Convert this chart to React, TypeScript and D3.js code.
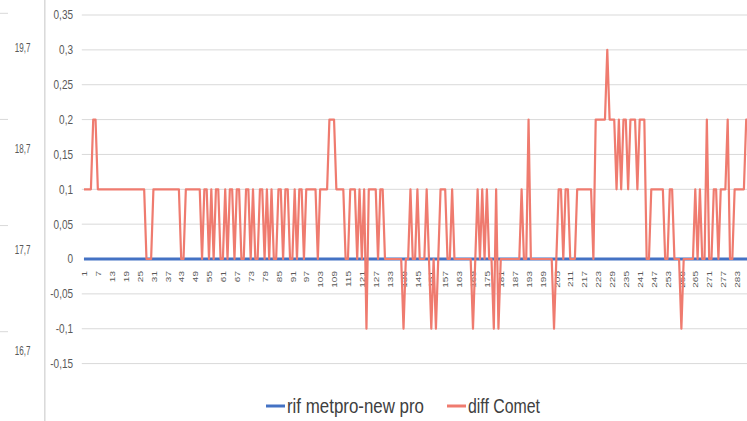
import { useRef, useEffect } from 'react';
import * as d3 from 'd3';

// diff Comet, one value per category (1..288)
const diffComet = [
  0.1, 0.1, 0.1, 0.1, 0.2, 0.2, 0.1, 0.1, 0.1, 0.1, 0.1, 0.1,
  0.1, 0.1, 0.1, 0.1, 0.1, 0.1, 0.1, 0.1, 0.1, 0.1, 0.1, 0.1,
  0.1, 0.1, 0.1, 0, 0, 0, 0.1, 0.1, 0.1, 0.1, 0.1, 0.1,
  0.1, 0.1, 0.1, 0.1, 0.1, 0.1, 0, 0, 0.1, 0.1, 0.1, 0.1,
  0.1, 0.1, 0.1, 0, 0.1, 0.1, 0, 0.1, 0, 0.1, 0.1, 0,
  0, 0.1, 0, 0.1, 0.1, 0, 0.1, 0.1, 0, 0, 0.1, 0.1,
  0, 0.1, 0, 0, 0.1, 0.1, 0, 0.1, 0, 0.1, 0, 0,
  0.1, 0.1, 0, 0.1, 0.1, 0, 0, 0.1, 0, 0.1, 0.1, 0,
  0.1, 0.1, 0.1, 0.1, 0.1, 0, 0.1, 0.1, 0.1, 0.1, 0.2, 0.2,
  0.2, 0.1, 0.1, 0.1, 0.1, 0, 0, 0.1, 0.1, 0.1, 0, 0.1,
  0, 0.1, -0.1, 0.1, 0.1, 0.1, 0.1, 0, 0.1, 0.1, 0, 0,
  0, 0, 0, 0, 0, 0, -0.1, 0, 0, 0.1, 0, 0,
  0.1, 0, 0, 0, 0.1, 0, -0.1, 0, -0.1, 0, 0.1, 0.1,
  0.1, 0, 0, 0.1, 0, 0, 0, 0, 0, 0, 0, 0,
  -0.1, 0, 0.1, 0, 0.1, 0, 0.1, 0, 0, -0.1, 0.1, -0.1,
  0, 0, 0, 0, 0, 0, 0, 0, 0, 0.1, 0, 0,
  0.2, 0, 0, 0, 0, 0, 0, 0, 0, 0, 0, -0.1,
  0, 0.1, 0.1, 0, 0.1, 0.1, 0, 0, 0, 0.1, 0.1, 0.1,
  0.1, 0.1, 0.1, 0.1, 0, 0.2, 0.2, 0.2, 0.2, 0.2, 0.3, 0.2,
  0.2, 0.2, 0.1, 0.2, 0.1, 0.2, 0.2, 0.1, 0.2, 0.2, 0.2, 0.1,
  0.2, 0.2, 0.2, 0, 0, 0.1, 0.1, 0.1, 0.1, 0.1, 0.1, 0,
  0, 0.1, 0.1, 0, 0, 0, -0.1, 0, 0, 0, 0, 0,
  0.1, 0, 0.1, 0, 0, 0.2, 0, 0, 0.1, 0.1, 0, 0.1,
  0.1, 0.1, 0.2, 0, 0, 0.1, 0.1, 0.1, 0.1, 0.1, 0.2, 0.2,
];

// rif metpro-new pro
const rifMetpro = [
  0, 0, 0, 0, 0, 0, 0, 0, 0, 0, 0, 0, 0, 0, 0, 0, 0, 0, 0, 0, 0, 0, 0, 0,
  0, 0, 0, 0, 0, 0, 0, 0, 0, 0, 0, 0, 0, 0, 0, 0, 0, 0, 0, 0, 0, 0, 0, 0,
  0, 0, 0, 0, 0, 0, 0, 0, 0, 0, 0, 0, 0, 0, 0, 0, 0, 0, 0, 0, 0, 0, 0, 0,
  0, 0, 0, 0, 0, 0, 0, 0, 0, 0, 0, 0, 0, 0, 0, 0, 0, 0, 0, 0, 0, 0, 0, 0,
  0, 0, 0, 0, 0, 0, 0, 0, 0, 0, 0, 0, 0, 0, 0, 0, 0, 0, 0, 0, 0, 0, 0, 0,
  0, 0, 0, 0, 0, 0, 0, 0, 0, 0, 0, 0, 0, 0, 0, 0, 0, 0, 0, 0, 0, 0, 0, 0,
  0, 0, 0, 0, 0, 0, 0, 0, 0, 0, 0, 0, 0, 0, 0, 0, 0, 0, 0, 0, 0, 0, 0, 0,
  0, 0, 0, 0, 0, 0, 0, 0, 0, 0, 0, 0, 0, 0, 0, 0, 0, 0, 0, 0, 0, 0, 0, 0,
  0, 0, 0, 0, 0, 0, 0, 0, 0, 0, 0, 0, 0, 0, 0, 0, 0, 0, 0, 0, 0, 0, 0, 0,
  0, 0, 0, 0, 0, 0, 0, 0, 0, 0, 0, 0, 0, 0, 0, 0, 0, 0, 0, 0, 0, 0, 0, 0,
  0, 0, 0, 0, 0, 0, 0, 0, 0, 0, 0, 0, 0, 0, 0, 0, 0, 0, 0, 0, 0, 0, 0, 0,
  0, 0, 0, 0, 0, 0, 0, 0, 0, 0, 0, 0, 0, 0, 0, 0, 0, 0, 0, 0, 0, 0, 0, 0,
];

const yTicks = [-0.15, -0.1, -0.05, 0, 0.05, 0.1, 0.15, 0.2, 0.25, 0.3, 0.35];
// axis of the neighbouring chart, cut off at the left edge
const leftTicks = [16.7, 17.7, 18.7, 19.7];
const leftGrid = [17, 18, 19, 20];

const SERIES = [
  { label: 'rif metpro-new pro', values: rifMetpro, colour: '#4472C4', width: 3 },
  { label: 'diff Comet', values: diffComet, colour: '#EF7B6F', width: 2.2 },
];

const W = 747;
const H = 421;
const FONT = "'Liberation Sans', Arial, sans-serif";
const GRID = '#D9D9D9';
const TEXT = '#595959';
// the screenshot is squeezed horizontally
const SQUEEZE = 0.8;

const fmt = d3.formatLocale({
  decimal: ',',
  thousands: '.',
  grouping: [3],
  currency: ['', '€'],
  minus: '-',
}).format('~g');

export default function App() {
  const svgRef = useRef<SVGSVGElement>(null);

  useEffect(() => {
    if (!svgRef.current) return;
    const svg = d3.select(svgRef.current);
    svg.selectAll('*').remove();

    const categories = diffComet.map((_, i) => String(i + 1));
    const plotLeft = 82.8;
    const band = 2.3156;

    const x = d3.scaleBand<string>()
      .domain(categories)
      .range([plotLeft, plotLeft + band * categories.length]);
    const cx = (c: string) => (x(c) ?? 0) + x.bandwidth() / 2;

    const y = d3.scaleLinear().domain([-0.15, 0.35]).range([363.6, 15]);

    // left strip: pieces of the other chart
    const yLeft = d3.scaleLinear().domain([16.7, 19.7]).range([350, 47]);
    const yLeftGrid = d3.scaleLinear().domain([17, 20]).range([331.7, 13.3]);

    svg.append('g')
      .selectAll('line')
      .data(leftGrid)
      .join('line')
      .attr('x1', 0)
      .attr('x2', 8)
      .attr('y1', d => yLeftGrid(d))
      .attr('y2', d => yLeftGrid(d))
      .attr('stroke', GRID)
      .attr('stroke-width', 1);

    svg.append('g')
      .selectAll('text')
      .data(leftTicks)
      .join('text')
      .attr('transform', d => `translate(30.5,${yLeft(d)}) scale(0.62,1)`)
      .attr('dy', '0.35em')
      .attr('text-anchor', 'end')
      .attr('font-family', FONT)
      .attr('font-size', 13)
      .attr('fill', TEXT)
      .text(d => fmt(d));

    svg.append('line')
      .attr('x1', 44.8)
      .attr('x2', 44.8)
      .attr('y1', 0)
      .attr('y2', H)
      .attr('stroke', GRID)
      .attr('stroke-width', 1.5);

    // horizontal grid
    svg.append('g')
      .selectAll('line')
      .data(yTicks.filter(t => t !== 0))
      .join('line')
      .attr('x1', plotLeft - 1)
      .attr('x2', W)
      .attr('y1', d => y(d))
      .attr('y2', d => y(d))
      .attr('stroke', GRID)
      .attr('stroke-width', 1);

    // y tick labels
    svg.append('g')
      .selectAll('text')
      .data(yTicks)
      .join('text')
      .attr('transform', d => `translate(73,${y(d)}) scale(${SQUEEZE},1)`)
      .attr('dy', '0.35em')
      .attr('text-anchor', 'end')
      .attr('font-family', FONT)
      .attr('font-size', 12.5)
      .attr('fill', TEXT)
      .text(d => fmt(d));

    // x tick labels, every 6th category, rotated
    const xLabels = categories.filter((_, i) => i % 6 === 0);
    svg.append('g')
      .selectAll('text')
      .data(xLabels)
      .join('text')
      .attr('transform', d => `translate(${cx(d) + 3.2},271) scale(${SQUEEZE},1) rotate(-90)`)
      .attr('text-anchor', 'end')
      .attr('font-family', FONT)
      .attr('font-size', 10)
      .attr('fill', TEXT)
      .text(d => d);

    // series
    const line = d3.line<number>()
      .x((_, i) => cx(categories[i]))
      .y(d => y(d));

    SERIES.forEach(s => {
      svg.append('path')
        .datum(s.values)
        .attr('fill', 'none')
        .attr('stroke', s.colour)
        .attr('stroke-width', s.width)
        .attr('stroke-linejoin', 'round')
        .attr('d', line);
    });

    // legend
    const legendItems = [
      { ...SERIES[0], x: 266, len: 137 },
      { ...SERIES[1], x: 447, len: 72 },
    ];
    const lg = svg.append('g');
    legendItems.forEach(item => {
      lg.append('line')
        .attr('x1', item.x)
        .attr('x2', item.x + 19)
        .attr('y1', 406)
        .attr('y2', 406)
        .attr('stroke', item.colour)
        .attr('stroke-width', 3);
      lg.append('text')
        .attr('x', item.x + 21)
        .attr('y', 413)
        .attr('font-family', FONT)
        .attr('font-size', 21)
        .attr('fill', '#404040')
        .attr('textLength', item.len)
        .attr('lengthAdjust', 'spacingAndGlyphs')
        .text(item.label);
    });
  }, []);

  return (
    <div style={{ position: 'absolute', left: 0, top: 0, width: W, height: H, background: '#fff' }}>
      <svg ref={svgRef} width={W} height={H} style={{ display: 'block' }} />
    </div>
  );
}
